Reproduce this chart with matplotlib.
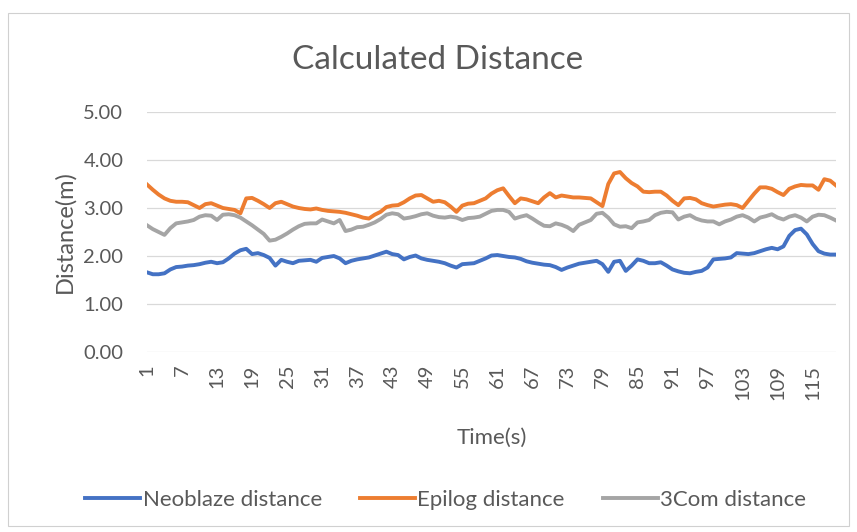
import matplotlib.pyplot as plt
from matplotlib.patches import Rectangle

# distance readings, one per second
neoblaze = [1.66, 1.62, 1.62, 1.64, 1.72, 1.77, 1.78, 1.80, 1.81, 1.83,
            1.86, 1.88, 1.85, 1.87, 1.95, 2.05, 2.12, 2.15, 2.04, 2.06,
            2.02, 1.96, 1.80, 1.92, 1.88, 1.85, 1.90, 1.91, 1.92, 1.88,
            1.96, 1.98, 2.00, 1.95, 1.85, 1.90, 1.93, 1.95, 1.97, 2.01,
            2.05, 2.09, 2.04, 2.02, 1.93, 1.98, 2.01, 1.95, 1.92, 1.90,
            1.88, 1.85, 1.80, 1.76, 1.83, 1.84, 1.85, 1.90, 1.95, 2.01,
            2.02, 2.00, 1.98, 1.97, 1.94, 1.89, 1.86, 1.84, 1.82, 1.81,
            1.77, 1.71, 1.76, 1.80, 1.84, 1.86, 1.88, 1.90, 1.83, 1.67,
            1.88, 1.90, 1.69, 1.80, 1.93, 1.90, 1.85, 1.85, 1.87, 1.80,
            1.72, 1.68, 1.65, 1.64, 1.67, 1.69, 1.76, 1.93, 1.94, 1.95,
            1.97, 2.06, 2.05, 2.04, 2.06, 2.10, 2.14, 2.17, 2.14, 2.20,
            2.42, 2.54, 2.57, 2.45, 2.25, 2.10, 2.05, 2.03, 2.03]
epilog = [3.49, 3.38, 3.28, 3.20, 3.15, 3.13, 3.13, 3.12, 3.06, 3.00,
          3.08, 3.10, 3.05, 3.00, 2.98, 2.96, 2.89, 3.20, 3.21, 3.15,
          3.08, 3.00, 3.10, 3.13, 3.08, 3.03, 3.00, 2.98, 2.97, 2.99,
          2.96, 2.94, 2.93, 2.92, 2.90, 2.87, 2.84, 2.80, 2.78, 2.86,
          2.92, 3.02, 3.05, 3.06, 3.12, 3.20, 3.26, 3.27, 3.20, 3.13,
          3.15, 3.12, 3.03, 2.92, 3.05, 3.09, 3.10, 3.15, 3.20, 3.30,
          3.37, 3.41, 3.25, 3.10, 3.20, 3.18, 3.14, 3.10, 3.22, 3.31,
          3.22, 3.26, 3.24, 3.22, 3.22, 3.21, 3.20, 3.12, 3.04, 3.50,
          3.72, 3.75, 3.62, 3.52, 3.45, 3.34, 3.33, 3.34, 3.34, 3.26,
          3.15, 3.06, 3.20, 3.21, 3.18, 3.10, 3.06, 3.03, 3.05, 3.07,
          3.08, 3.06, 3.00, 3.15, 3.30, 3.43, 3.43, 3.40, 3.33, 3.27,
          3.40, 3.45, 3.48, 3.47, 3.47, 3.38, 3.60, 3.57, 3.47]
com3 = [2.64, 2.56, 2.50, 2.44, 2.58, 2.68, 2.70, 2.72, 2.75, 2.82,
        2.85, 2.84, 2.75, 2.86, 2.87, 2.85, 2.80, 2.72, 2.64, 2.55,
        2.46, 2.32, 2.34, 2.40, 2.47, 2.55, 2.62, 2.67, 2.68, 2.68,
        2.76, 2.72, 2.68, 2.75, 2.52, 2.55, 2.60, 2.61, 2.65, 2.70,
        2.77, 2.86, 2.89, 2.87, 2.78, 2.80, 2.83, 2.87, 2.89, 2.84,
        2.81, 2.80, 2.82, 2.80, 2.75, 2.79, 2.80, 2.82, 2.88, 2.94,
        2.96, 2.96, 2.92, 2.78, 2.82, 2.85, 2.78, 2.70, 2.63, 2.62,
        2.68, 2.65, 2.60, 2.52, 2.65, 2.70, 2.75, 2.88, 2.90, 2.80,
        2.66, 2.61, 2.62, 2.58, 2.70, 2.72, 2.75, 2.85, 2.90, 2.92,
        2.91, 2.76, 2.82, 2.85, 2.78, 2.74, 2.72, 2.72, 2.66, 2.72,
        2.76, 2.82, 2.85, 2.80, 2.72, 2.80, 2.83, 2.87, 2.80, 2.76,
        2.82, 2.85, 2.80, 2.72, 2.82, 2.86, 2.85, 2.80, 2.74]
seconds = list(range(1, len(neoblaze) + 1))
y_ticks = [0, 1, 2, 3, 4, 5]

text_grey = '#595959'
plt.rcParams['font.family'] = ['Lato', 'DejaVu Sans']

fig = plt.figure(figsize=(8.57, 5.32), dpi=100)
ax = fig.add_axes([0.1715, 0.3383, 0.804, 0.4512])

# light frame round the whole chart area
fig.patches.append(Rectangle((0.009, 0.012), 0.982, 0.964, transform=fig.transFigure,
                             fill=False, edgecolor='#d0d0d0', linewidth=0.8))

ax.plot(seconds, neoblaze, color='#4472C4', lw=2.8, label='Neoblaze distance')
ax.plot(seconds, epilog, color='#ED7D31', lw=2.8, label='Epilog distance')
ax.plot(seconds, com3, color='#A5A5A5', lw=2.8, label='3Com distance')

ax.set_xlim(1, len(seconds))
ax.set_ylim(0, 5)
ax.set_yticks(y_ticks)
ax.set_yticklabels(['%.2f' % v for v in y_ticks])
ax.set_xticks(seconds[::6])
ax.set_xticklabels([str(s) for s in seconds[::6]], rotation=90)
ax.tick_params(length=0, labelsize=14.5, colors=text_grey)
ax.tick_params(axis='y', pad=17)
ax.tick_params(axis='x', pad=9)
ax.grid(axis='y', color='#d9d9d9', lw=0.9)
ax.set_axisbelow(True)
for s in ax.spines.values():
    s.set_visible(False)

fig.text(0.51, 0.887, 'Calculated Distance', fontsize=24, color=text_grey,
         ha='center', va='center')
ax.set_xlabel('Time(s)', fontsize=16, color=text_grey, labelpad=20)
ax.set_ylabel('Distance(m)', fontsize=17, color=text_grey, labelpad=6)

fig.legend(loc='center', bbox_to_anchor=(0.52, 0.06), ncol=3, frameon=False,
           fontsize=16, handlelength=2.5, handletextpad=0.1, columnspacing=1.7,
           labelcolor=text_grey)

fig.savefig('out.png', dpi=100)
